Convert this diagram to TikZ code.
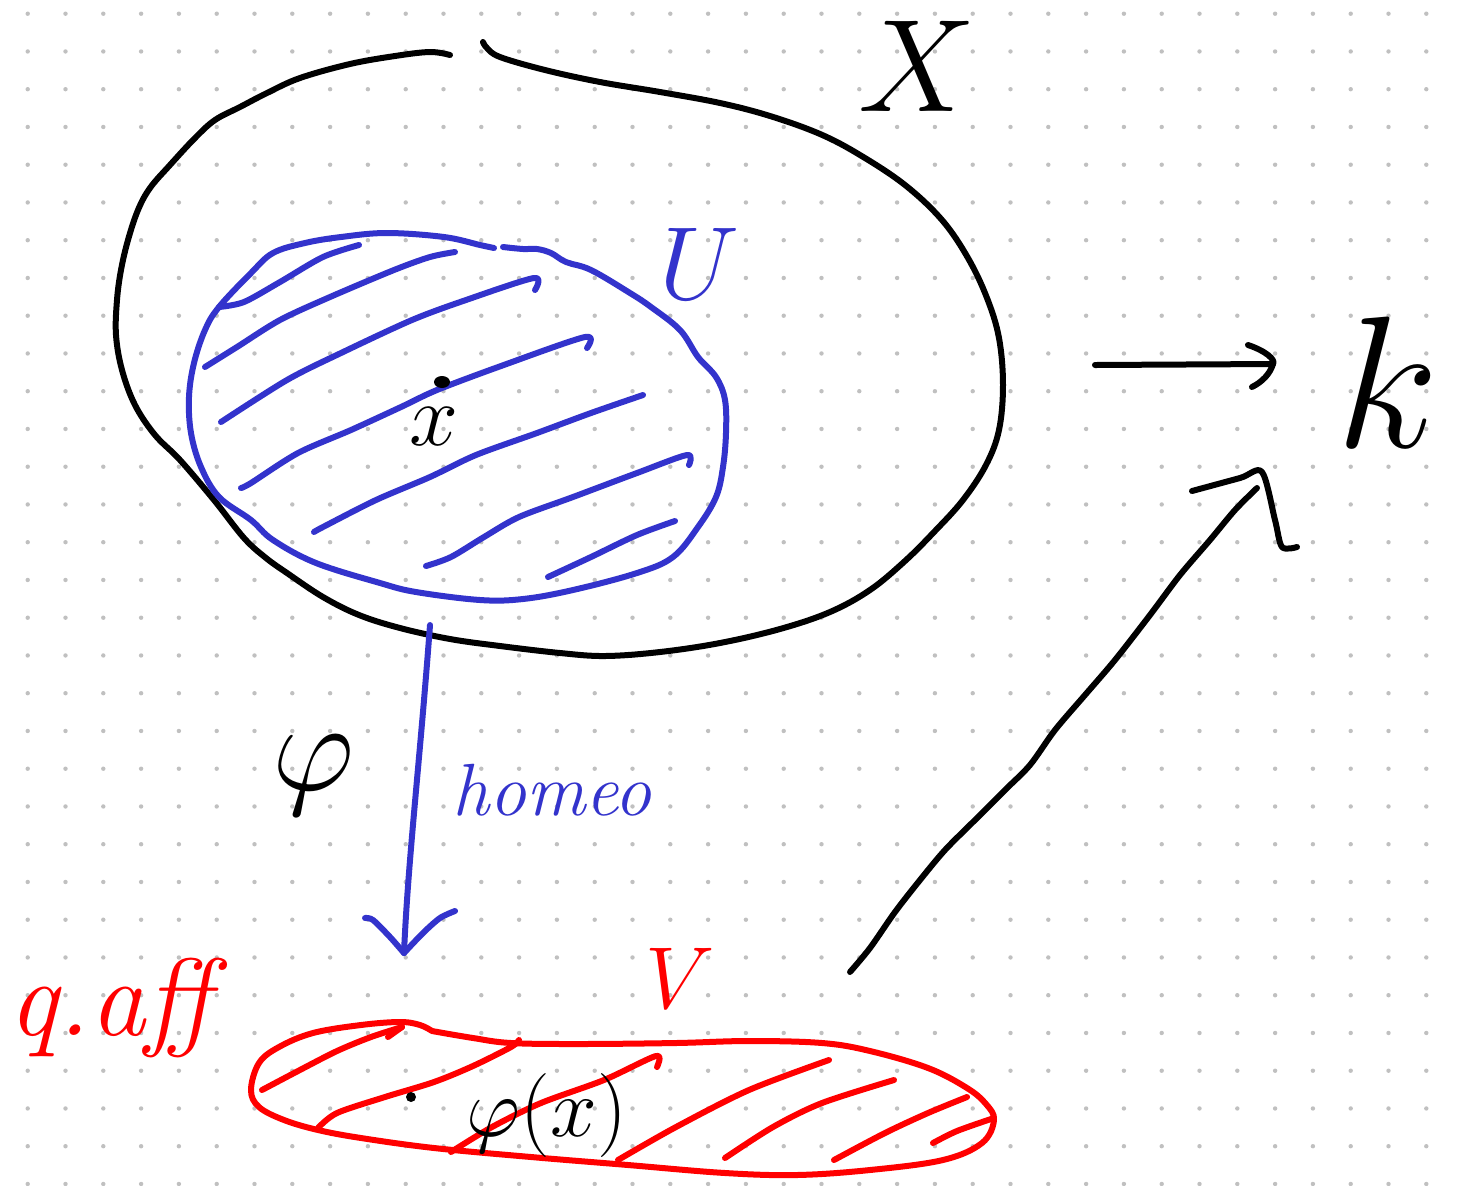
\RequirePackage{fix-cm}
\documentclass[tikz,border=0pt]{standalone}
\usetikzlibrary{arrows.meta}
\definecolor{dotc}{RGB}{192,192,192}
\definecolor{pblue}{RGB}{51,51,204}
\definecolor{pred}{RGB}{255,0,0}
\begin{document}
\begin{tikzpicture}[x=0.5pt,y=-0.5pt,
  pen/.style={line width=3pt,line cap=round,line join=round},
  bpen/.style={pen,draw=pblue},
  rpen/.style={pen,draw=pred},
  kpen/.style={pen,draw=black},
  lab/.style={inner sep=0pt,anchor=center}]
\useasboundingbox (0,0) rectangle (1463,1185);
\fill[white] (0,0) rectangle (1463,1185);
% dot grid
\foreach \i in {0,...,37}{\foreach \j in {0,...,31}{
  \fill[dotc] ({27.7+37.8*\i},{13.7+37.75*\j}) circle[radius=1.1pt];}}
% black outer set X
\draw[kpen] plot[smooth,tension=0.6] coordinates {(450,55) (430,52) (395,56) (350,64) (300,78) (267,93) (240,107) (215,120) (195,138) (170,165) (150,188) (138,210) (128,240) (121,270) (117,300) (116,335) (122,370) (135,405) (155,435) (180,460) (214,500) (244,538) (266,558) (287,573) (323,597) (359,615) (400,628) (450,639) (500,646) (560,653) (605,656) (660,652) (720,643) (780,629) (830,612) (870,590) (905,561) (935,531) (963,500) (986,465) (999,430) (1003,385) (999,338) (987,298) (968,258) (942,220) (905,185) (860,155) (820,134) (770,116) (720,103) (660,92) (600,82) (545,70) (500,57) (487,48) (483,42)};
% blue set U
\draw[bpen] plot[smooth,tension=0.6] coordinates {(494,248) (480,245) (444,237) (387,233) (341,237) (305,243) (273,253) (251,273) (219,307) (205,330) (194,363) (189,397) (191,433) (201,467) (219,497) (251,520) (273,540) (316,563) (380,583) (416,592) (480,600) (523,599) (573,590) (637,573) (673,557) (698,527) (716,497) (723,467) (726,433) (725,400) (716,377) (698,357) (680,330) (651,307) (630,293) (591,270) (566,262) (551,253) (537,249) (523,249) (503,247)};
% blue hatching
\draw[bpen] plot[smooth] coordinates {(219,307) (244,302) (280,282) (323,257) (359,245)};
\draw[bpen] plot[smooth] coordinates {(205,367) (237,347) (280,320) (330,297) (394,270) (430,257) (455,252)};
\draw[bpen] plot[smooth] coordinates {(221,422) (287,380) (341,353) (412,320) (466,300) (534,278) (535,290)};
\draw[bpen] plot[smooth] coordinates {(241,488) (251,483) (298,453) (351,430) (401,407) (437,390) (501,366) (585,337) (587,348)};
\draw[bpen] plot[smooth] coordinates {(314,532) (323,527) (376,500) (430,477) (476,455) (537,433) (591,413) (643,395)};
\draw[bpen] plot[smooth] coordinates {(426,566) (451,557) (484,537) (519,517) (573,497) (637,473) (687,455) (689,465)};
\draw[bpen] plot[smooth] coordinates {(548,577) (591,557) (637,535) (675,521)};
% red set V
\draw[rpen] plot[smooth,tension=0.6] coordinates {(432,1031) (473,1038) (511,1043) (579,1044) (676,1043) (749,1041) (822,1043) (870,1051) (928,1068) (967,1088) (986,1104) (994,1120) (982,1143) (943,1160) (870,1170) (797,1175) (725,1173) (628,1165) (531,1157) (434,1148) (361,1138) (318,1130) (284,1120) (259,1107) (251,1090) (259,1063) (279,1047) (313,1033) (361,1025) (400,1022) (420,1025) (432,1031)};
% red hatching
\draw[rpen] plot[smooth] coordinates {(262,1090) (298,1071) (337,1051) (371,1037) (402,1027)};
\draw[rpen] (388,1037) -- (402,1027);
\draw[rpen] plot[smooth] coordinates {(318,1128) (337,1113) (385,1097) (434,1082) (473,1066) (511,1047) (519,1040)};
\draw[rpen] plot[smooth] coordinates {(451,1152) (492,1127) (541,1103) (604,1080) (656,1056) (657,1067)};
\draw[rpen] plot[smooth] coordinates {(618,1160) (676,1127) (749,1090) (829,1060)};
\draw[rpen] plot[smooth] coordinates {(725,1158) (773,1127) (822,1103) (894,1080)};
\draw[rpen] plot[smooth] coordinates {(834,1160) (885,1133) (928,1113) (967,1097)};
\draw[rpen] plot[smooth] coordinates {(933,1143) (957,1131) (994,1118)};
% labels
\node[lab] (Xl) at (917,66) {\fontsize{66}{72}\selectfont$X$};
\node[lab,text=pblue] (Ul) at (700,264) {\fontsize{52}{60}\selectfont$U$};
\node[lab] (xl) at (434,427) {\fontsize{44}{50}\selectfont$x$};
\fill (442,382) ellipse[x radius=4pt,y radius=3pt];
\node[lab] (kl) at (1388,382) {\fontsize{94}{100}\selectfont$k$};
\node[lab] (phil) at (314,775) {\fontsize{64}{72}\selectfont$\varphi$};
\node[lab,text=pblue] (homeo) at (552,790) {\fontsize{37}{44}\selectfont\itshape homeo};
\node[lab,text=pred] (Vl) at (680,978) {\fontsize{44}{50}\selectfont$V$};
\node[lab,text=pred] (qaff) at (110,1008) {\fontsize{55}{60}\selectfont\itshape q.aff};
\node[lab] (phix) at (547,1115) {\fontsize{42}{48}\selectfont$\varphi(x)$};
\fill (411,1097) circle[radius=2.5pt];
% arrows
\coordinate (uBot) at (430,625);
\coordinate (vTop) at (404,953);
\draw[bpen] (uBot) .. controls (420,760) and (408,860) .. (vTop);
\draw[bpen] plot[smooth] coordinates {(365,918) (373,920) (390,937) (vTop)};
\draw[bpen] plot[smooth] coordinates {(455,911) (440,918) (423,933) (vTop)};
\coordinate (xR) at (1095,365);
\coordinate (kTip) at (1273,364);
\draw[kpen] (xR) -- (kTip);
\draw[kpen] (1248,345) .. controls (1266,351) and (1276,360) .. (kTip) .. controls (1270,374) and (1262,382) .. (1252,387);
\coordinate (vR) at (850,972);
\coordinate (kTip2) at (1262,472);
\draw[kpen] plot[smooth] coordinates {(vR) (870,948) (895,912) (920,880) (945,850) (975,820) (1005,790) (1030,765) (1055,730) (1085,695) (1115,660) (1150,615) (1180,575) (1210,540) (1235,510) (1257,488)};
\draw[kpen] plot[smooth] coordinates {(1192,491) (1240,478) (kTip2) (1275,520) (1282,547) (1297,547)};
\end{tikzpicture}
\end{document}
